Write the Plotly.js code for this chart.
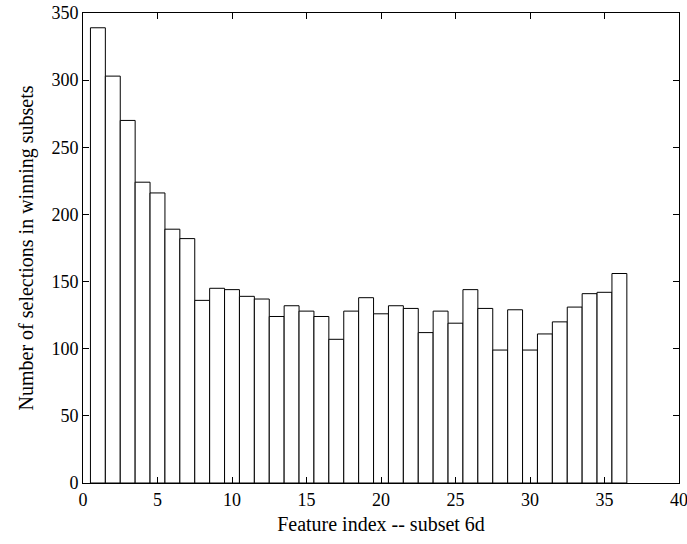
<!DOCTYPE html>
<html>
<head>
<meta charset="utf-8">
<script src="https://cdn.plot.ly/plotly-3.0.1.min.js"></script>
<style>
  html, body { margin: 0; padding: 0; background: #fff; }
  #chart { width: 687px; height: 544px; }
</style>
</head>
<body>
<div id="chart"></div>
<script>
const featureIndex = [1,2,3,4,5,6,7,8,9,10,11,12,13,14,15,16,17,18,19,20,21,22,23,24,25,26,27,28,29,30,31,32,33,34,35,36];
const selections = [339,303,270,224,216,189,182,136,145,144,139,137,124,132,128,124,107,128,138,126,132,130,112,128,119,144,130,99,129,99,111,120,131,141,142,156];
const xTicks = [0,5,10,15,20,25,30,35,40];
const yTicks = [0,50,100,150,200,250,300,350];
const xTitle = "Feature index -- subset 6d";
const yTitle = "Number of selections in winning subsets";

const font = "Liberation Serif, Times New Roman, serif";

const trace = {
  type: "bar",
  x: featureIndex,
  y: selections,
  width: 1,
  marker: { color: "#ffffff", line: { color: "#000000", width: 1 } },
  hoverinfo: "x+y"
};

const layout = {
  width: 687,
  height: 544,
  margin: { l: 83, r: 8, t: 13, b: 61 },
  paper_bgcolor: "#ffffff",
  plot_bgcolor: "#ffffff",
  showlegend: false,
  font: { family: font, size: 18, color: "#000" },
  xaxis: {
    range: [0, 40],
    tickvals: xTicks,
    ticktext: xTicks.map(String),
    ticks: "inside",
    ticklen: 6,
    tickcolor: "#000",
    ticklabeloverflow: "allow",
    showline: true,
    linecolor: "#000",
    linewidth: 1,
    mirror: "ticks",
    showgrid: false,
    zeroline: false,
    tickfont: { family: font, size: 18, color: "#000" },
    title: { text: xTitle, font: { family: font, size: 20, color: "#000" }, standoff: 8 }
  },
  yaxis: {
    range: [0, 350],
    tickvals: yTicks,
    ticktext: yTicks.map(String),
    ticks: "inside",
    ticklen: 6,
    tickcolor: "#000",
    showline: true,
    linecolor: "#000",
    linewidth: 1,
    mirror: "ticks",
    showgrid: false,
    zeroline: false,
    tickfont: { family: font, size: 18, color: "#000" },
    title: { text: yTitle, font: { family: font, size: 20, color: "#000" }, standoff: 12 }
  }
};

Plotly.newPlot("chart", [trace], layout, { displayModeBar: false, staticPlot: true });
</script>
</body>
</html>
